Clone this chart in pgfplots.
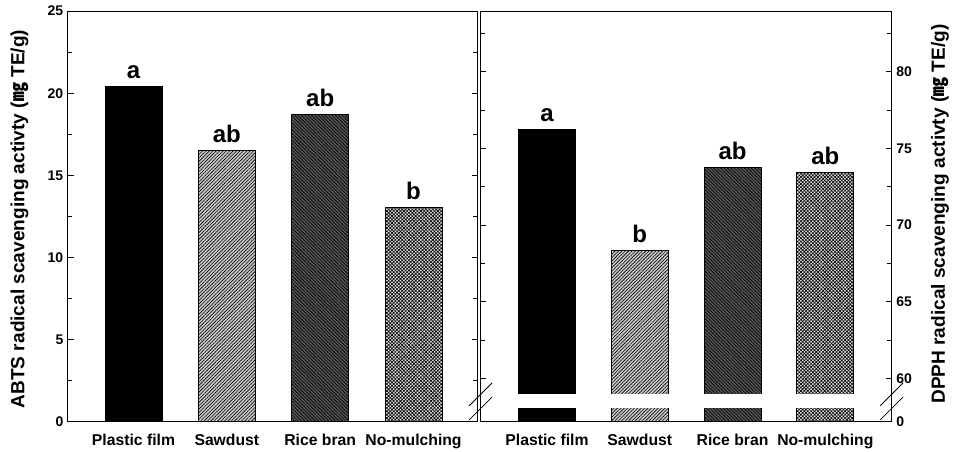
\documentclass[border=0pt]{standalone}
\usepackage{fontspec}
\setmainfont{Liberation Sans}
\newfontfamily\cjk{Noto Sans CJK KR}
\usepackage{pgfplots}
\pgfplotsset{compat=1.18}
\usetikzlibrary{patterns.meta}

\definecolor{sawfill}{RGB}{200,200,200}
\definecolor{ricefill}{RGB}{85,85,85}
\definecolor{nomfill}{RGB}{225,225,225}

\pgfplotsset{
  panel/.style={
    scale only axis, height=308pt,
    ybar, bar width=42.75pt, bar shift=0pt,
    xtick={0,1,2,3},
    xticklabels={Plastic film,Sawdust,Rice bran,No-mulching},
    x tick style={draw=none},
    tick align=inside, ytick pos=both,
    axis line style={line width=0.75pt},
    y tick style={line width=0.6pt, black},
    major tick length=4.2pt, minor tick length=3.3pt,
    /pgf/number format/assume math mode=true,
    yticklabel style={font=\bfseries\fontsize{10.5}{12}\selectfont},
    xticklabel style={font=\bfseries\fontsize{11.8}{14}\selectfont, yshift=-5.5pt},
    point meta=explicit symbolic,
    nodes near coords,
    every node near coord/.append style={font=\bfseries\fontsize{18}{20}\selectfont, inner sep=0pt, anchor=south, yshift=5.5pt},
  },
  pf/.style={draw=black, line width=0.5pt, fill=black},
  sd/.style={draw=black, line width=0.5pt, fill=sawfill,
     postaction={pattern={Lines[angle=45,distance=1.8pt,line width=0.45pt]}, pattern color=black}},
  rb/.style={draw=black, line width=0.5pt, fill=ricefill,
     postaction={pattern={Lines[angle=-45,distance=1.8pt,line width=0.5pt]}, pattern color=black}},
  nm/.style={draw=black, line width=0.5pt, fill=nomfill,
     postaction={pattern={Hatch[angle=45,distance=1.8pt,line width=0.45pt]}, pattern color=black}},
}

\begin{document}
\begin{tikzpicture}
\useasboundingbox (-51pt,-22.7pt) rectangle (666pt,316.3pt);
% ---------- ABTS ----------
\begin{axis}[panel,
  at={(0pt,0pt)}, anchor=south west, width=307.3pt,
  xmin=-0.702, xmax=3.688, ymin=0, ymax=25,
  ytick={0,5,10,15,20,25}, minor ytick={2.5,7.5,12.5,17.5,22.5},
  yticklabel pos=left,
  ylabel={ABTS radical scavenging activty ({\cjk\bfseries ㎎} TE/g)},
  every axis y label/.style={at={(axis description cs:-0.118,0.4935)}, rotate=90, anchor=center,
     font=\bfseries\fontsize{14.3}{16}\selectfont},
]
\addplot[pf] coordinates {(0,20.43) [a]};
\addplot[sd] coordinates {(1,16.52) [ab]};
\addplot[rb] coordinates {(2,18.69) [ab]};
\addplot[nm] coordinates {(3,13.05) [b]};
\end{axis}
% ---------- DPPH ----------
\begin{axis}[panel,
  at={(309.5pt,0pt)}, anchor=south west, width=308.3pt,
  xmin=-0.715, xmax=3.716, ymin=57.17, ymax=83.96,
  ytick={57.17,60,65,70,75,80}, yticklabels={0,60,65,70,75,80},
  minor ytick={62.5,67.5,72.5,77.5,82.5},
  yticklabel pos=right,
  ylabel={DPPH radical scavenging activty ({\cjk\bfseries ㎎} TE/g)},
  every axis y label/.style={at={(axis description cs:1.1175,0.5057)}, rotate=90, anchor=center,
     font=\bfseries\fontsize{14.3}{16}\selectfont},
]
\addplot[pf] coordinates {(0,76.24) [a]};
\addplot[sd] coordinates {(1,68.32) [b]};
\addplot[rb] coordinates {(2,73.76) [ab]};
\addplot[nm] coordinates {(3,73.46) [ab]};
\fill[white] (axis cs:-0.5,58.04) rectangle (axis cs:3.5,58.96);
\end{axis}
% axis break marks
\foreach \x in {309.5pt,617.8pt}{
  \foreach \y in {10pt,20.6pt}{
    \draw[line width=0.6pt] ([shift={(-8.6pt,-8.6pt)}]\x,\y) -- ([shift={(8.6pt,8.6pt)}]\x,\y);
  }
}
\end{tikzpicture}
\end{document}
